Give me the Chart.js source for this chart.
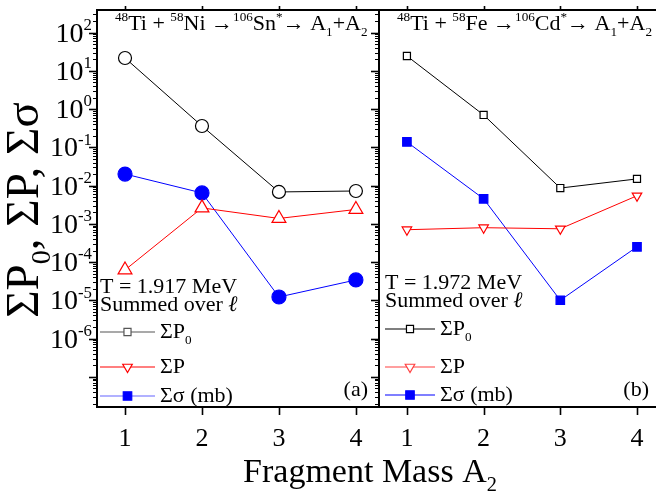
<!DOCTYPE html>
<html>
<head>
<meta charset="utf-8">
<script src="https://cdn.jsdelivr.net/npm/chart.js@4.4.1/dist/chart.umd.min.js"></script>
<style>
html, body { margin: 0; padding: 0; background: #fff; }
#wrap { position: relative; width: 656px; height: 491px; overflow: hidden; background: #fff; }
#left { position: absolute; left: 0; top: 0; }
#right { position: absolute; left: 370px; top: 0; }
</style>
</head>
<body>
<div id="wrap">
<canvas id="left" width="656" height="491"></canvas>
<canvas id="right" width="300" height="491"></canvas>
</div>
<script>
// fragment mass A2
const masses = [1, 2, 3, 4];

// (a) 48Ti + 58Ni -> 106Sn*, T = 1.917 MeV
const sumP0_a = [21.6, 0.36, 6.8e-3, 7.2e-3];
const sumP_a = [6.2e-5, 2.6e-3, 1.38e-3, 2.37e-3];
const sumSig_a = [0.020, 6.4e-3, 1.22e-5, 3.4e-5];

// (b) 48Ti + 58Fe -> 106Cd*, T = 1.972 MeV
const sumP0_b = [24.4, 0.70, 8.6e-3, 0.0149];
const sumP_b = [7.0e-4, 7.9e-4, 7.4e-4, 5.4e-3];
const sumSig_b = [0.138, 4.5e-3, 1.0e-5, 2.5e-4];

const yExps = [2, 1, 0, -1, -2, -3, -4, -5, -6];
const xMin = 0.636, xMax = 4.3;
const yMin = 1.62e-8, yMax = 389;

const FONT = '"Liberation Serif", "Times New Roman", serif';

function rich(ctx, x, y, parts, size, align) {
  const fnt = (k, it) => (it ? 'italic ' : '') + (k ? size * 0.6 : size) + 'px ' + FONT;
  let w = 0;
  parts.forEach(p => { ctx.font = fnt(p[1], p[2]); w += ctx.measureText(p[0]).width; });
  let cx = align === 'center' ? x - w / 2 : align === 'right' ? x - w : x;
  ctx.textAlign = 'left';
  ctx.textBaseline = 'alphabetic';
  parts.forEach(p => {
    ctx.font = fnt(p[1], p[2]);
    const dy = p[1] === 'sup' ? -size * 0.42 : p[1] === 'sub' ? size * 0.25 : 0;
    ctx.fillText(p[0], cx, y + dy);
    cx += ctx.measureText(p[0]).width;
  });
  return w;
}

function series(vals, color, style, r, fill, rot) {
  return {
    data: masses.map((m, i) => ({ x: m, y: vals[i] })),
    borderColor: color,
    borderWidth: 1,
    tension: 0,
    pointStyle: style,
    pointRadius: r,
    pointHoverRadius: r,
    pointRotation: rot || 0,
    pointBorderColor: color,
    pointBackgroundColor: fill,
    pointBorderWidth: 1.2
  };
}

function decor(o) {
  return {
    id: 'decor',
    afterDraw(chart) {
      const ctx = chart.ctx, a = chart.chartArea;
      const x = chart.scales.x, y = chart.scales.y;
      ctx.save();
      ctx.strokeStyle = '#000';
      ctx.fillStyle = '#000';
      // y ticks, outward
      for (let e = -8; e <= 3; e++) {
        for (let k = 1; k <= 9; k++) {
          const v = k * Math.pow(10, e);
          if (v < yMin || v > yMax) continue;
          const py = Math.round(y.getPixelForValue(v)) + 0.5;
          ctx.lineWidth = k === 1 ? 1.6 : 1;
          ctx.beginPath();
          ctx.moveTo(a.left - (k === 1 ? 8 : 4), py);
          ctx.lineTo(a.left, py);
          ctx.stroke();
        }
      }
      // x ticks
      ctx.lineWidth = 1.6;
      ctx.beginPath();
      masses.forEach(m => {
        const px = Math.round(x.getPixelForValue(m)) + 0.5;
        ctx.moveTo(px, a.bottom); ctx.lineTo(px, a.bottom + 8);
        ctx.moveTo(px, a.top); ctx.lineTo(px, a.top - 4);
      });
      ctx.stroke();
      // frame
      ctx.lineWidth = 2;
      ctx.strokeRect(a.left, a.top, a.right - a.left, a.bottom - a.top);

      // x tick labels
      ctx.font = '26px ' + FONT;
      ctx.textAlign = 'center';
      ctx.textBaseline = 'alphabetic';
      masses.forEach(m => ctx.fillText(String(m), x.getPixelForValue(m), 446));

      if (o.yLabels) {
        yExps.forEach(e => {
          const py = y.getPixelForValue(Math.pow(10, e));
          rich(ctx, 92, py + 9, [['10', ''], [String(e), 'sup']], 28, 'right');
        });
        ctx.save();
        ctx.translate(38, 210);
        ctx.rotate(-Math.PI / 2);
        rich(ctx, 0, 0, [['ΣP', ''], ['0', 'sub'], [', ΣP, Σσ', '']], 47, 'center');
        ctx.restore();
        rich(ctx, 370, 482, [['Fragment Mass A', ''], ['2', 'sub']], 34, 'center');
      }

      // panel title
      rich(ctx, o.titleX, 30, o.title, 22, 'left');
      // temperature note
      rich(ctx, o.noteX, o.noteY, [['T = ' + o.temp + ' MeV', '']], 22, 'left');
      rich(ctx, o.noteX, o.noteY + 18, [['Summed over ', ''], ['ℓ', '', true]], 22, 'left');

      // legend
      const rows = [
        { lbl: [['ΣP', ''], ['0', 'sub']], color: o.legCol[0], style: 'rect', r: 5, fill: '#fff', rot: 0 },
        { lbl: [['ΣP', '']], color: o.legCol[1], style: 'triangle', r: 5.5, fill: '#fff', rot: 180 },
        { lbl: [['Σσ (mb)', '']], color: o.legCol[2], style: 'rect', r: 6, fill: '#0000ff', rot: 0 }
      ];
      rows.forEach((row, i) => {
        const ly = o.legY[i];
        ctx.strokeStyle = row.color;
        ctx.lineWidth = 1.2;
        ctx.beginPath();
        ctx.moveTo(o.legX0, ly); ctx.lineTo(o.legX1, ly);
        ctx.stroke();
        ctx.fillStyle = row.fill;
        ctx.strokeStyle = i === 2 ? '#0000ff' : row.color;
        Chart.helpers.drawPoint(ctx, { pointStyle: row.style, radius: row.r, rotation: row.rot, borderWidth: 1.2 },
          (o.legX0 + o.legX1) / 2, ly);
        ctx.fillStyle = '#000';
        rich(ctx, o.legX1 + 5, ly + 6, row.lbl, 22, 'left');
      });
      // panel letter
      ctx.fillStyle = '#000';
      rich(ctx, o.tagX, 396, [[o.tag, '']], 22, 'right');
      ctx.restore();
    }
  };
}

function panel(id, pad, datasets, o) {
  return new Chart(document.getElementById(id), {
    type: 'line',
    data: { datasets },
    options: {
      responsive: false,
      animation: false,
      layout: { padding: pad },
      plugins: { legend: { display: false }, tooltip: { enabled: false } },
      scales: {
        x: { type: 'linear', min: xMin, max: xMax, display: false },
        y: { type: 'logarithmic', min: yMin, max: yMax, display: false }
      }
    },
    plugins: [decor(o)]
  });
}

panel('left', { left: 97, right: 277, top: 10, bottom: 84 }, [
  series(sumP0_a, '#000000', 'circle', 6.5, '#ffffff'),
  series(sumP_a, '#ff0000', 'triangle', 8, '#ffffff'),
  series(sumSig_a, '#0000ff', 'circle', 7, '#0000ff')
], {
  yLabels: true,
  titleX: 115,
  title: [['48', 'sup'], ['Ti + ', ''], ['58', 'sup'], ['Ni →', ''], ['106', 'sup'], ['Sn', ''], ['*', 'sup'], ['→ A', ''], ['1', 'sub'], ['+A', ''], ['2', 'sub']],
  temp: '1.917', noteX: 100, noteY: 293,
  legX0: 100, legX1: 155, legY: [332, 367, 396], legCol: ['#555555', '#ff0000', '#6464ff'],
  tag: '(a)', tagX: 368
});

panel('right', { left: 9, right: 10, top: 10, bottom: 84 }, [
  series(sumP0_b, '#000000', 'rect', 5, '#ffffff'),
  series(sumP_b, '#ff0000', 'triangle', 5.5, '#ffffff', 180),
  series(sumSig_b, '#0000ff', 'rect', 6, '#0000ff')
], {
  yLabels: false,
  titleX: 27,
  title: [['48', 'sup'], ['Ti + ', ''], ['58', 'sup'], ['Fe →', ''], ['106', 'sup'], ['Cd', ''], ['*', 'sup'], ['→ A', ''], ['1', 'sub'], ['+A', ''], ['2', 'sub']],
  temp: '1.972', noteX: 15, noteY: 289,
  legX0: 15, legX1: 65, legY: [329, 367, 395], legCol: ['#000000', '#ff4040', '#0000ff'],
  tag: '(b)', tagX: 279
});
</script>
</body>
</html>
